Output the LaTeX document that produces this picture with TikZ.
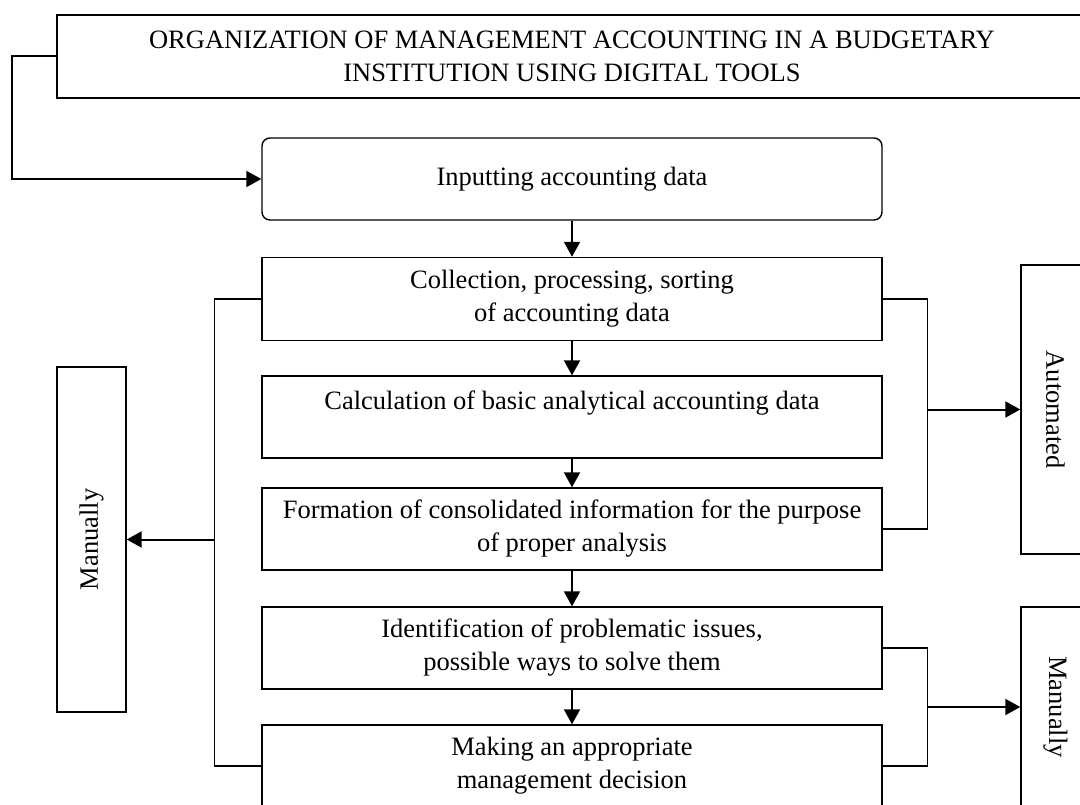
\documentclass[tikz,border=0pt]{standalone}
\usepackage{fontspec}
\setmainfont{Liberation Serif}
\usetikzlibrary{arrows.meta}
\begin{document}
\begin{tikzpicture}[x=1pt,y=-1pt,
  box/.style={draw,line width=1.4pt,align=center,inner sep=0pt,
    font=\fontsize{26.5}{33}\selectfont},
  rtext/.style={font=\fontsize{26.5}{33}\selectfont},
  arr/.style={line width=2pt,-{Triangle[length=15pt,width=16pt]}},
  brk/.style={line width=1.5pt}]
\clip (0,0) rectangle (1080,805);
\fill[white] (0,0) rectangle (1080,805);
\node[box,minimum width=1030pt,minimum height=83pt] (title) at (572,56.5)
  {ORGANIZATION OF MANAGEMENT ACCOUNTING IN A BUDGETARY\\INSTITUTION USING DIGITAL TOOLS};
\node[box,rounded corners=8pt,minimum width=620pt,minimum height=82pt] (input) at (572,179)
  {Inputting accounting data};
\node[box,minimum width=620pt,minimum height=83pt] (coll) at (572,299)
  {Collection, processing, sorting\\of accounting data};
\node[box,minimum width=620pt,minimum height=82pt] (calc) at (572,417)
  {Calculation of basic analytical accounting data\\\mbox{}};
\node[box,minimum width=620pt,minimum height=82pt] (form) at (572,529)
  {Formation of consolidated information for the purpose\\of proper analysis};
\node[box,minimum width=620pt,minimum height=82pt] (ident) at (572,648)
  {Identification of problematic issues,\\possible ways to solve them};
\node[box,minimum width=620pt,minimum height=82pt] (make) at (572,766)
  {Making an appropriate\\management decision};
\node[box,minimum width=69pt,minimum height=345pt] (manL) at (91.5,539.5) {};
\node[rotate=90,rtext] (manLt) at (manL.center) {Manually};
\node[box,minimum width=69pt,minimum height=289pt] (auto) at (1055.5,409.5) {};
\node[rotate=-90,rtext] (autot) at (auto.center) {Automated};
\node[box,minimum width=69pt,minimum height=200pt] (manR) at (1055.5,707) {};
\node[rotate=-90,rtext] (manRt) at (manR.center) {Manually};
% title to input
\draw[arr] (title.west) -- ++(-44,0) |- (input.west);
% vertical chain
\draw[arr] (input.south) -- (coll.north);
\draw[arr] (coll.south) -- (calc.north);
\draw[arr] (calc.south) -- (form.north);
\draw[arr] (form.south) -- (ident.north);
\draw[arr] (ident.south) -- (make.north);
% left bracket
\draw[brk] (coll.west) -- ++(-47,0) coordinate (lt) |- (make.west);
\coordinate (lj) at (lt |- manL.east);
\draw[arr] (lj) -- (manL.east);
% right bracket automated
\draw[brk] (coll.east) -- ++(45,0) coordinate (rt) |- (form.east);
\coordinate (rj) at (rt |- auto.west);
\draw[arr] (rj) -- (auto.west);
% right bracket manually
\draw[brk] (ident.east) -- ++(45,0) coordinate (rt2) |- (make.east);
\coordinate (rj2) at (rt2 |- manR.west);
\draw[arr] (rj2) -- (manR.west);
\end{tikzpicture}
\end{document}
